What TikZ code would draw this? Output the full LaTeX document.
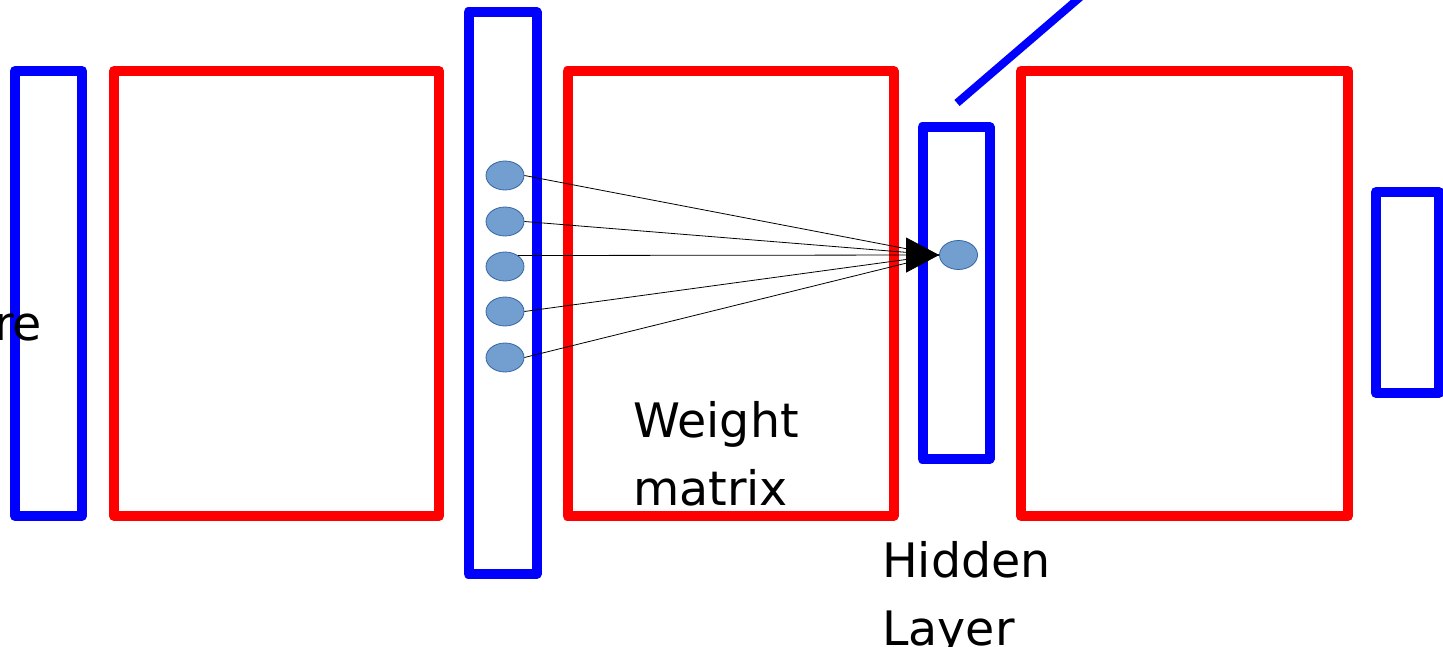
\documentclass[tikz,border=0pt]{standalone}
\usepackage{fontspec}
\setmainfont{DejaVu Sans}
\usetikzlibrary{shapes.geometric,arrows.meta}
\definecolor{unitfill}{HTML}{729FCF}
\definecolor{unitline}{HTML}{3465A4}
\tikzset{
  layerbox/.style={draw=blue, line width=10pt, line join=round},
  matbox/.style={draw=red, line width=10pt, line join=round},
  unit/.style={ellipse, fill=unitfill, draw=unitline, line width=0.8pt,
    minimum width=38pt, minimum height=29pt, inner sep=0pt},
  wire/.style={draw=black, line width=0.8pt},
  label/.style={font=\fontsize{47.5}{68}\selectfont, anchor=base west, inner sep=0pt}
}
\begin{document}
\begin{tikzpicture}[x=1pt, y=-1pt]
\useasboundingbox (0,0) rectangle (1443,647);

% layer vectors (blue) and weight matrices (red)
\draw[layerbox] (15,71) rectangle (82,516);
\draw[matbox] (114,71) rectangle (439,516);
\draw[layerbox] (468.5,12) rectangle (536.5,574);
\draw[matbox] (567.5,71) rectangle (893.5,516);
\draw[layerbox] (922.5,127) rectangle (989.5,459);
\draw[matbox] (1021,71) rectangle (1348,516);
\draw[layerbox] (1376,192) rectangle (1439,393);

% leader line from the hidden layer
\coordinate (leadA) at (957,103);
\coordinate (leadB) at (1092,-13);
\draw[draw=blue, line width=8pt] (leadA) -- (leadB);

% input units and the single hidden unit
\node[unit] (e1) at (505,175.5) {};
\node[unit] (e2) at (505,221.5) {};
\node[unit] (e3) at (505,266.5) {};
\node[unit] (e4) at (505,311.5) {};
\node[unit] (e5) at (505,357.5) {};
\node[unit] (h) at (958.5,255) {};

% weighted connections into the hidden unit
\draw[wire] (e1.east) -- (h.west);
\draw[wire] (e2.east) -- (h.west);
\draw[wire] (e4.east) -- (h.west);
\draw[wire] (e5.east) -- (h.west);
\draw[wire, -{Triangle[length=33pt, width=35pt]}] (e3.40) -- (h.west);

% labels
\node[label] (lin) at (-6,340) {re};
\node[label] (w1) at (633,437) {Weight};
\node[label] (w2) at (633,505) {matrix};
\node[label] (hl1) at (882,577) {Hidden};
\node[label] (hl2) at (882,645) {Layer};
\end{tikzpicture}
\end{document}
